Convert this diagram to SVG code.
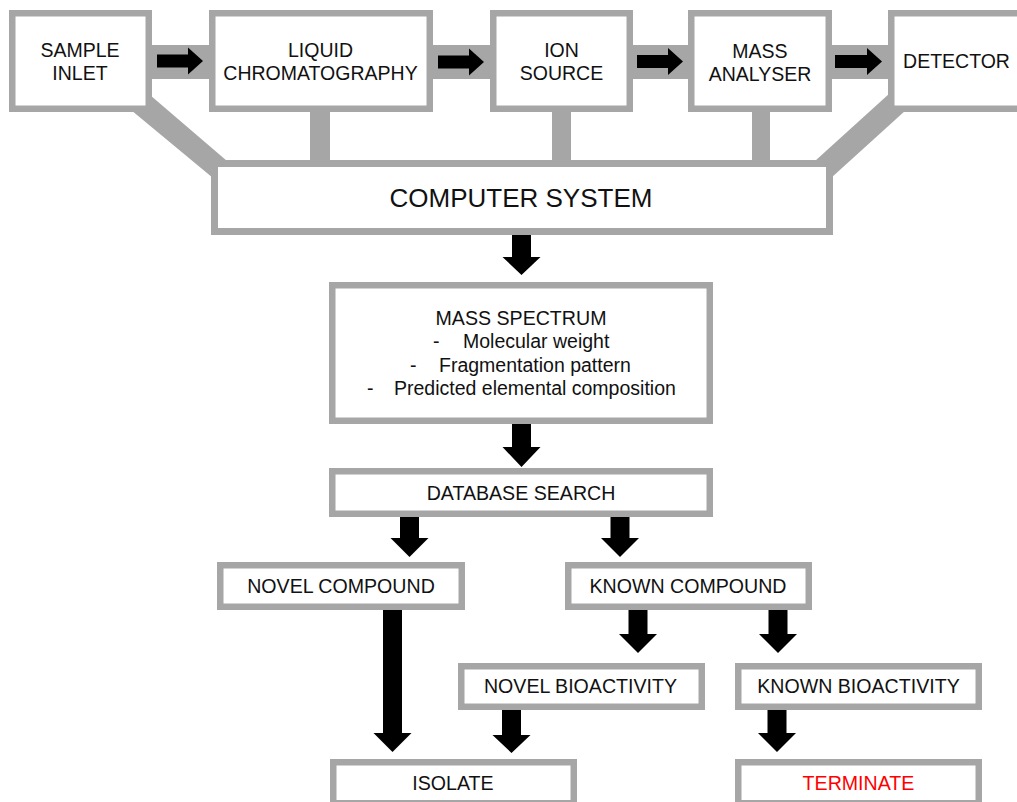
<svg xmlns="http://www.w3.org/2000/svg" width="1017" height="802" viewBox="0 0 1017 802">
<style>
.box{fill:#fff;stroke:#a6a6a6;stroke-width:6.5}
.band{fill:#a6a6a6}
.arr{fill:#000}
.t{font-family:"Liberation Sans",Arial,sans-serif;fill:#111;text-anchor:middle}
.top{font-size:19.5px}
.mid{font-size:19.6px}
.ms{font-size:19.6px}
.lt{font-family:"Liberation Sans",Arial,sans-serif;fill:#111;font-size:19.5px}
</style>
<rect width="1017" height="802" fill="#fff"/>
<g id="connectors">
  <rect class="band" x="150" y="45" width="62" height="34"/>
  <rect class="band" x="431" y="45" width="62" height="34"/>
  <rect class="band" x="631" y="45" width="60" height="34"/>
  <rect class="band" x="830" y="45" width="61" height="34"/>
  <rect class="band" x="310" y="110" width="20" height="53"/>
  <rect class="band" x="552" y="110" width="19" height="53"/>
  <rect class="band" x="752" y="110" width="18" height="53"/>
  <polygon class="band" points="150,95 227,161 213,178 131,110"/>
  <polygon class="band" points="890,93 906,110 831,178 815,161"/>
  <polygon class="arr" points="157,54.5 188,54.5 188,47.5 203,61 188,74.5 188,67.5 157,67.5"/>
  <polygon class="arr" points="438,55.5 469,55.5 469,48.5 484,62 469,75.5 469,68.5 438,68.5"/>
  <polygon class="arr" points="637,55 668,55 668,48 683,61.5 668,75 668,68 637,68"/>
  <polygon class="arr" points="835,55 867,55 867,48 882,61.5 867,75 867,68 835,68"/>
  <polygon class="arr" points="512,234 531,234 531,257 540.5,257 521.5,275 502.5,257 512,257"/>
  <polygon class="arr" points="512,423 531,423 531,447 540.5,447 521.5,467 502.5,447 512,447"/>
  <polygon class="arr" points="400,516 419,516 419,538 428.5,538 409.5,557 390.5,538 400,538"/>
  <polygon class="arr" points="610.5,516 629.5,516 629.5,538 639,538 620,557 601,538 610.5,538"/>
  <polygon class="arr" points="628.5,609 647.5,609 647.5,634 657,634 638,653 619,634 628.5,634"/>
  <polygon class="arr" points="768.5,609 787.5,609 787.5,634 797,634 778,653 759,634 768.5,634"/>
  <polygon class="arr" points="383,609 402,609 402,733 411.5,733 392.5,752 373.5,733 383,733"/>
  <polygon class="arr" points="502,709 521,709 521,735 530.5,735 511.5,753 492.5,735 502,735"/>
  <polygon class="arr" points="767.5,709 786.5,709 786.5,733 796,733 777,752 758,733 767.5,733"/>
</g>
<g id="sample-inlet">
  <rect class="box" x="12.25" y="13.25" width="136.5" height="95.5"/>
  <text class="t top" x="80" y="57">SAMPLE</text>
  <text class="t top" x="80" y="80">INLET</text>
</g>
<g id="liquid-chromatography">
  <rect class="box" x="212.25" y="13.25" width="217.5" height="95.5"/>
  <text class="t top" x="320.5" y="57">LIQUID</text>
  <text class="t top" x="320.5" y="80">CHROMATOGRAPHY</text>
</g>
<g id="ion-source">
  <rect class="box" x="493.25" y="13.25" width="136.5" height="95.5"/>
  <text class="t top" x="561.5" y="57">ION</text>
  <text class="t top" x="561.5" y="80">SOURCE</text>
</g>
<g id="mass-analyser">
  <rect class="box" x="691.25" y="13.25" width="137.5" height="95.5"/>
  <text class="t top" x="760" y="57.5">MASS</text>
  <text class="t top" x="760" y="80.5">ANALYSER</text>
</g>
<g id="detector">
  <rect class="box" x="891.25" y="13.25" width="140" height="95.5"/>
  <text class="t top" x="956.5" y="68">DETECTOR</text>
</g>
<g id="computer-system">
  <rect class="box" x="214.5" y="163.5" width="615" height="68" style="stroke-width:7"/>
  <text class="t" x="521" y="207" style="font-size:26px">COMPUTER SYSTEM</text>
</g>
<g id="mass-spectrum">
  <rect class="box" x="332.25" y="285.25" width="377.5" height="135.5"/>
  <text class="t ms" x="521" y="325">MASS SPECTRUM</text>
  <text class="lt" x="433" y="348">-</text>
  <text class="lt" x="463" y="348">Molecular weight</text>
  <text class="lt" x="410" y="371.5">-</text>
  <text class="lt" x="439" y="371.5">Fragmentation pattern</text>
  <text class="lt" x="367" y="395">-</text>
  <text class="lt" x="394" y="395">Predicted elemental composition</text>
</g>
<g id="database-search">
  <rect class="box" x="332.25" y="471.25" width="377.5" height="42.5"/>
  <text class="t mid" x="521" y="500">DATABASE SEARCH</text>
</g>
<g id="novel-compound">
  <rect class="box" x="220.25" y="565.25" width="241.5" height="41.5"/>
  <text class="t mid" x="341" y="593">NOVEL COMPOUND</text>
</g>
<g id="known-compound">
  <rect class="box" x="568.25" y="565.25" width="240.5" height="41.5"/>
  <text class="t mid" x="688" y="593">KNOWN COMPOUND</text>
</g>
<g id="novel-bioactivity">
  <rect class="box" x="461.25" y="666.25" width="240.5" height="40.5"/>
  <text class="t mid" x="580.5" y="693">NOVEL BIOACTIVITY</text>
</g>
<g id="known-bioactivity">
  <rect class="box" x="738.25" y="666.25" width="240.5" height="40.5"/>
  <text class="t mid" x="858.5" y="693">KNOWN BIOACTIVITY</text>
</g>
<g id="isolate">
  <rect class="box" x="333.25" y="762.25" width="240.5" height="41"/>
  <text class="t mid" x="453" y="790">ISOLATE</text>
</g>
<g id="terminate">
  <rect class="box" x="738.25" y="762.25" width="240.5" height="41"/>
  <text class="t mid" x="858.5" y="790" style="fill:#ff0000">TERMINATE</text>
</g>
</svg>
